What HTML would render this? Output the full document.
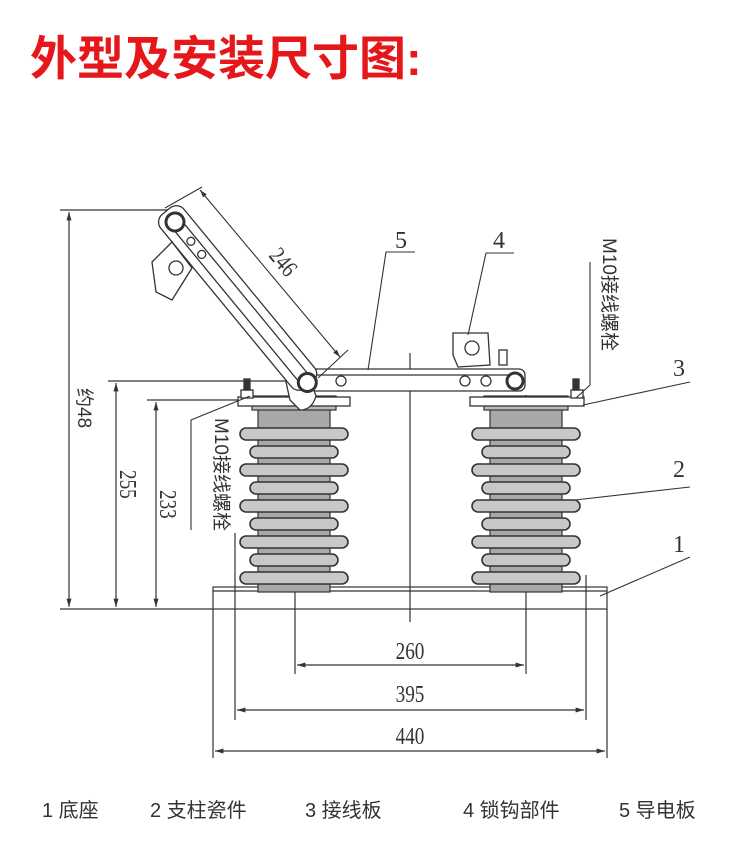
<!DOCTYPE html>
<html><head><meta charset="utf-8"><style>
body{margin:0;background:#fff;width:750px;height:853px;overflow:hidden}
svg{display:block}
.d{font-family:"Liberation Serif",serif;fill:#333}
</style></head><body>
<svg width="750" height="853" viewBox="0 0 750 853" xmlns="http://www.w3.org/2000/svg">
<defs>
<marker id="a" viewBox="0 0 10 10" refX="10" refY="5" markerWidth="7" markerHeight="7" orient="auto-start-reverse"><path d="M0,2L10,5L0,8z" fill="#333"/></marker>
<g id="ins">
 <rect x="18" y="0" width="72" height="186" fill="#a8a8a8" stroke="#333" stroke-width="1.2"/>
 <rect x="12" y="-10" width="84" height="14" fill="#bbb" stroke="#333" stroke-width="1.2"/>
 <g fill="#c8c8c8" stroke="#333" stroke-width="1.6">
  <rect x="0" y="22" width="108" height="12" rx="6"/>
  <rect x="10" y="40" width="88" height="12" rx="6"/>
  <rect x="0" y="58" width="108" height="12" rx="6"/>
  <rect x="10" y="76" width="88" height="12" rx="6"/>
  <rect x="0" y="94" width="108" height="12" rx="6"/>
  <rect x="10" y="112" width="88" height="12" rx="6"/>
  <rect x="0" y="130" width="108" height="12" rx="6"/>
  <rect x="10" y="148" width="88" height="12" rx="6"/>
  <rect x="0" y="166" width="108" height="12" rx="6"/>
 </g>
</g>
</defs>
<text x="30" y="75" font-family="'Liberation Sans','Noto Sans CJK SC',sans-serif" font-size="47" font-weight="bold" fill="#e5171b">外型及安装尺寸图:</text>

<g stroke="#333" stroke-width="1.2" fill="none">
 <line x1="60" y1="210" x2="168" y2="210"/>
 <line x1="108" y1="381" x2="300" y2="381"/>
 <line x1="147" y1="400" x2="250" y2="400"/>
 <line x1="60" y1="609" x2="213" y2="609"/>
 <line x1="69" y1="212" x2="69" y2="607" marker-start="url(#a)" marker-end="url(#a)"/>
 <line x1="116" y1="383" x2="116" y2="607" marker-start="url(#a)" marker-end="url(#a)"/>
 <line x1="156" y1="402" x2="156" y2="607" marker-start="url(#a)" marker-end="url(#a)"/>
 <rect x="213" y="587" width="394" height="22"/>
 <line x1="213" y1="591" x2="607" y2="591"/>
 <line x1="213" y1="609" x2="213" y2="758"/>
 <line x1="607" y1="609" x2="607" y2="758"/>
 <line x1="235" y1="533" x2="235" y2="720"/>
 <line x1="586" y1="575" x2="586" y2="720"/>
 <line x1="295" y1="395" x2="295" y2="674"/>
 <line x1="526" y1="395" x2="526" y2="674"/>
 <line x1="410" y1="353" x2="410" y2="622"/>
 <line x1="297" y1="665" x2="524" y2="665" marker-start="url(#a)" marker-end="url(#a)"/>
 <line x1="237" y1="710" x2="584" y2="710" marker-start="url(#a)" marker-end="url(#a)"/>
 <line x1="215" y1="751" x2="605" y2="751" marker-start="url(#a)" marker-end="url(#a)"/>
</g>

<use href="#ins" x="240" y="406"/>
<use href="#ins" x="472" y="406"/>

<g stroke="#333" stroke-width="1.3" fill="#fff">
 <rect x="238" y="397" width="112" height="9"/>
 <rect x="470" y="397" width="114" height="9"/>
 <rect x="241" y="390" width="12" height="8"/><rect x="571" y="390" width="12" height="8"/>
 <rect x="244" y="379" width="6" height="11" fill="#333"/><rect x="573" y="379" width="6" height="11" fill="#333"/>
 <rect x="300" y="369" width="225" height="22" rx="6"/>
 <line x1="310" y1="375" x2="520" y2="375"/>
 <!-- pivot piece -->
 <path d="M280 355 Q294 348 304 362 L316 396 Q312 410 300 410 L290 400 Z"/>
 <circle cx="290" cy="358" r="4"/>
 <g transform="translate(175,222) rotate(50.5)">
  <rect x="-14" y="-15" width="225" height="30" rx="10"/>
  <line x1="0" y1="-6" x2="205" y2="-6"/>
  <line x1="0" y1="6" x2="205" y2="6"/>
  <circle cx="0" cy="0" r="9" stroke-width="3"/>
  <circle cx="25" cy="0" r="4"/><circle cx="42" cy="0" r="4"/>
  <circle cx="208" cy="0" r="9" stroke-width="3"/>
 </g>
 <path d="M152 262 L172 242 L192 268 L172 300 L156 292 Z"/>
 <circle cx="176" cy="268" r="7"/>
 <circle cx="341" cy="381" r="5"/>
 <circle cx="465" cy="381" r="5"/><circle cx="486" cy="381" r="5"/>
 <circle cx="515" cy="381" r="8" stroke-width="3"/>
 <path d="M453 333 L488 333 L490 365 L458 367 L453 355 Z"/>
 <circle cx="472" cy="348" r="7"/>
 <rect x="499" y="350" width="8" height="15"/>
</g>

<g stroke="#333" stroke-width="1.1" fill="none">
 <line x1="200" y1="190" x2="340" y2="357" marker-start="url(#a)" marker-end="url(#a)"/>
 <line x1="165" y1="208" x2="202" y2="187"/>
 <line x1="318" y1="378" x2="348" y2="350"/>
 <polyline points="368,370 386,252 415,252"/>
 <polyline points="468,335 486,253 514,253"/>
 <polyline points="576,398 590,385 590,262"/>
 <line x1="583" y1="405" x2="690" y2="382"/>
 <line x1="575" y1="500" x2="690" y2="487"/>
 <line x1="600" y1="596" x2="690" y2="557"/>
 <polyline points="250,396 191,420 191,530"/>
</g>

<g class="d" font-size="24">
 <text x="395" y="248">5</text><text x="493" y="248">4</text>
 <text x="673" y="376">3</text><text x="673" y="477">2</text><text x="673" y="552">1</text>
 <text x="410" y="659" text-anchor="middle" transform="translate(410 0) scale(0.8 1) translate(-410 0)">260</text>
 <text x="410" y="702" text-anchor="middle" transform="translate(410 0) scale(0.8 1) translate(-410 0)">395</text>
 <text x="410" y="744" text-anchor="middle" transform="translate(410 0) scale(0.8 1) translate(-410 0)">440</text>
 <text transform="translate(268,256) rotate(50) scale(0.8 1)">246</text>
 <text transform="translate(120,470) rotate(90) scale(0.8 1)">255</text>
 <text transform="translate(160,490) rotate(90) scale(0.8 1)">233</text>
</g>
<g font-family="'Liberation Sans','Noto Sans CJK SC',sans-serif" font-size="19" fill="#333">
 <text transform="translate(78,388) rotate(90)">约48</text>
 <text transform="translate(603,238) rotate(90)">M10接线螺栓</text>
 <text transform="translate(215,418) rotate(90)">M10接线螺栓</text>
</g>
<g font-family="'Liberation Sans','Noto Sans CJK SC',sans-serif" font-size="20" fill="#333">
 <text x="42" y="817">1 底座</text>
 <text x="150" y="817">2 支柱瓷件</text>
 <text x="305" y="817">3 接线板</text>
 <text x="463" y="817">4 锁钩部件</text>
 <text x="619" y="817">5 导电板</text>
</g>
</svg>
</body></html>
